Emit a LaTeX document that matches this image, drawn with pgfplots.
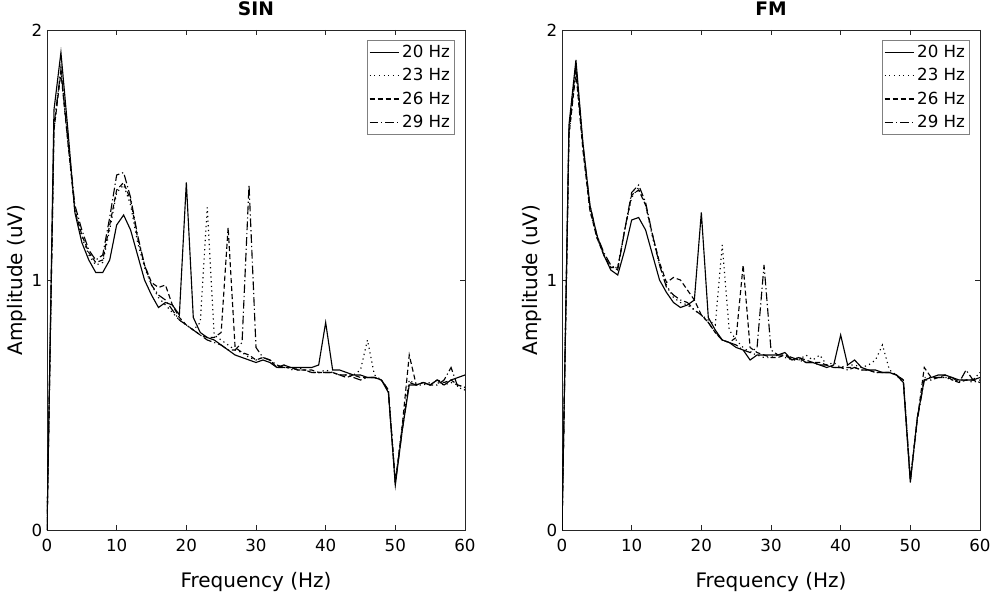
\documentclass[border=0pt]{standalone}
\usepackage{fontspec}
\setmainfont{DejaVu Sans}
\usepackage{pgfplots}
\usepackage{pgfplotstable}
\pgfplotsset{compat=1.18}
\definecolor{axgray}{gray}{0.15}

\pgfplotstableread{
f a20 a23 a26 a29
0 0.00 0.00 0.00 0.00
1 1.68 1.60 1.60 1.62
2 1.91 1.85 1.83 1.84
3 1.60 1.55 1.55 1.56
4 1.27 1.28 1.28 1.30
5 1.15 1.17 1.18 1.20
6 1.08 1.10 1.11 1.12
7 1.03 1.06 1.07 1.08
8 1.03 1.07 1.08 1.10
9 1.08 1.20 1.22 1.25
10 1.22 1.35 1.36 1.42
11 1.26 1.38 1.39 1.43
12 1.20 1.30 1.32 1.33
13 1.10 1.15 1.17 1.18
14 1.00 1.05 1.06 1.06
15 0.94 0.98 0.99 0.98
16 0.89 0.93 0.97 0.94
17 0.91 0.90 0.98 0.92
18 0.90 0.87 0.90 0.88
19 0.86 0.84 0.85 0.84
20 1.39 0.82 0.82 0.82
21 0.85 0.80 0.80 0.80
22 0.79 0.83 0.78 0.78
23 0.77 1.29 0.77 0.76
24 0.76 0.78 0.77 0.75
25 0.74 0.76 0.79 0.74
26 0.72 0.74 1.21 0.72
27 0.70 0.72 0.73 0.72
28 0.69 0.71 0.71 0.75
29 0.68 0.69 0.70 1.38
30 0.67 0.68 0.68 0.73
31 0.68 0.69 0.69 0.69
32 0.67 0.68 0.68 0.68
33 0.65 0.65 0.65 0.66
34 0.66 0.66 0.65 0.65
35 0.65 0.64 0.65 0.65
36 0.65 0.65 0.64 0.64
37 0.65 0.64 0.64 0.64
38 0.65 0.63 0.64 0.63
39 0.66 0.63 0.63 0.63
40 0.83 0.64 0.63 0.63
41 0.64 0.63 0.63 0.63
42 0.64 0.62 0.62 0.62
43 0.63 0.62 0.61 0.62
44 0.62 0.62 0.62 0.61
45 0.62 0.64 0.61 0.60
46 0.61 0.76 0.61 0.61
47 0.61 0.62 0.61 0.61
48 0.60 0.60 0.60 0.60
49 0.55 0.56 0.56 0.56
50 0.18 0.19 0.19 0.19
51 0.40 0.42 0.42 0.40
52 0.58 0.60 0.70 0.59
53 0.58 0.58 0.58 0.58
54 0.59 0.58 0.59 0.59
55 0.58 0.59 0.58 0.58
56 0.60 0.59 0.60 0.58
57 0.58 0.58 0.59 0.60
58 0.60 0.59 0.60 0.65
59 0.61 0.58 0.58 0.57
60 0.62 0.57 0.57 0.56
}\sindata

\pgfplotstableread{
f a20 a23 a26 a29
0 0.00 0.00 0.00 0.00
1 1.62 1.58 1.58 1.60
2 1.88 1.84 1.83 1.86
3 1.55 1.53 1.52 1.54
4 1.30 1.28 1.28 1.30
5 1.18 1.17 1.17 1.18
6 1.10 1.10 1.10 1.11
7 1.04 1.05 1.05 1.06
8 1.02 1.05 1.05 1.04
9 1.12 1.20 1.20 1.20
10 1.24 1.33 1.34 1.35
11 1.25 1.37 1.36 1.38
12 1.20 1.30 1.30 1.31
13 1.10 1.17 1.18 1.18
14 1.00 1.06 1.07 1.06
15 0.95 0.98 0.99 0.97
16 0.91 0.93 1.01 0.94
17 0.89 0.91 1.00 0.92
18 0.90 0.90 0.96 0.91
19 0.92 0.88 0.92 0.88
20 1.27 0.86 0.86 0.86
21 0.85 0.84 0.83 0.83
22 0.80 0.82 0.79 0.79
23 0.76 1.14 0.76 0.76
24 0.75 0.80 0.75 0.75
25 0.73 0.76 0.77 0.74
26 0.72 0.73 1.06 0.72
27 0.68 0.71 0.73 0.71
28 0.70 0.70 0.71 0.73
29 0.70 0.69 0.70 1.06
30 0.70 0.69 0.69 0.72
31 0.70 0.70 0.69 0.70
32 0.71 0.69 0.70 0.70
33 0.68 0.68 0.68 0.69
34 0.69 0.68 0.69 0.68
35 0.67 0.70 0.68 0.67
36 0.67 0.68 0.67 0.67
37 0.66 0.70 0.67 0.66
38 0.65 0.66 0.66 0.66
39 0.66 0.67 0.65 0.65
40 0.78 0.65 0.65 0.65
41 0.66 0.66 0.65 0.64
42 0.68 0.66 0.65 0.65
43 0.65 0.65 0.64 0.64
44 0.64 0.66 0.64 0.64
45 0.64 0.68 0.63 0.63
46 0.63 0.74 0.63 0.63
47 0.63 0.64 0.63 0.63
48 0.62 0.62 0.62 0.62
49 0.59 0.59 0.60 0.60
50 0.19 0.20 0.20 0.20
51 0.45 0.45 0.44 0.44
52 0.60 0.61 0.65 0.60
53 0.61 0.61 0.61 0.60
54 0.62 0.61 0.61 0.61
55 0.62 0.61 0.62 0.61
56 0.61 0.60 0.60 0.61
57 0.60 0.60 0.59 0.59
58 0.60 0.60 0.60 0.64
59 0.60 0.59 0.60 0.60
60 0.61 0.60 0.59 0.63
}\fmdata

\pgfplotsset{
  myax/.style={
    scale only axis, width=313.5pt, height=375pt,
    xmin=0, xmax=60, ymin=0, ymax=2,
    xtick={0,10,20,30,40,50,60}, ytick={0,1,2},
    tick align=inside, major tick length=4pt,
    axis line style={axgray, line width=0.6pt},
    every tick/.style={axgray, line width=0.6pt},
    tick label style={font=\fontsize{12.5}{14}\selectfont, text=black},
    xticklabel style={yshift=-3pt},
    /pgf/number format/assume math mode=true,
    label style={font=\fontsize{15}{18}\selectfont},
    xlabel style={yshift=-9pt},
    ylabel style={yshift=-3pt},
    title style={font=\fontsize{14}{16}\selectfont\bfseries, yshift=1pt},
    xlabel={Frequency (Hz)}, ylabel={Amplitude (uV)},
    legend style={at={(rel axis cs:0.976,0.98)}, anchor=north east,
      draw=gray, line width=0.5pt, font=\fontsize{12.5}{14}\selectfont,
      inner xsep=1.5pt, inner ysep=1.5pt, row sep=2.8pt,
      cells={anchor=west}},
    legend image code/.code={\draw[#1] (0pt,0pt) -- (22pt,0pt);},
    every axis plot/.append style={black, line width=0.85pt},
  },
  s20/.style={solid},
  s23/.style={dash pattern=on 0.9pt off 2.6pt},
  s26/.style={dash pattern=on 3.8pt off 2.2pt},
  s29/.style={dash pattern=on 6.5pt off 2.2pt on 0.9pt off 2.2pt},
}

\begin{document}
\begin{tikzpicture}
\useasboundingbox (-35.25pt,-47.25pt) rectangle (714.75pt,397.5pt);
\begin{axis}[myax, at={(0pt,0pt)}, anchor=south west, title={SIN}]
  \addplot[s20] table[x=f, y=a20] {\sindata};
  \addplot[s23] table[x=f, y=a23] {\sindata};
  \addplot[s26] table[x=f, y=a26] {\sindata};
  \addplot[s29] table[x=f, y=a29] {\sindata};
  \legend{20 Hz, 23 Hz, 26 Hz, 29 Hz}
\end{axis}
\begin{axis}[myax, at={(386.25pt,0pt)}, anchor=south west, title={FM}]
  \addplot[s20] table[x=f, y=a20] {\fmdata};
  \addplot[s23] table[x=f, y=a23] {\fmdata};
  \addplot[s26] table[x=f, y=a26] {\fmdata};
  \addplot[s29] table[x=f, y=a29] {\fmdata};
  \legend{20 Hz, 23 Hz, 26 Hz, 29 Hz}
\end{axis}
\end{tikzpicture}
\end{document}
